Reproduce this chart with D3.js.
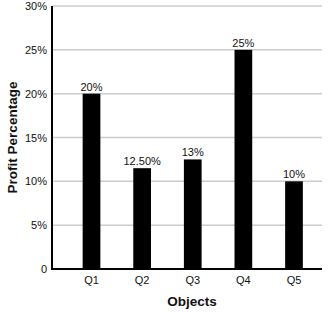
<!DOCTYPE html>
<html><head><meta charset="utf-8">
<script src="https://cdn.jsdelivr.net/npm/d3@7"></script>
<style>body{margin:0;background:#fff}text{font-family:"Liberation Sans",Arial,sans-serif}</style>
</head><body><svg id="c" width="334" height="312"></svg>
<script>
const categories = ["Q1","Q2","Q3","Q4","Q5"];
const values = [20, 11.5, 12.5, 25, 10];
const valueLabels = ["20%","12.50%","13%","25%","10%"];
const yTicks = [0,5,10,15,20,25,30];
const yTickLabels = ["0","5%","10%","15%","20%","25%","30%"];

(function(){
const svg = d3.select("#c");
const mLeft = 52, mRight = 322, mTop = 6, mBottom = 269;
const font = '"Liberation Sans",Arial,sans-serif';
const y = d3.scaleLinear().domain([0,30]).range([mBottom, mTop]);
const x = d3.scaleBand().domain(categories).range([66.2, 319.3]).paddingInner(0.65).paddingOuter(0.325);

svg.append("g").selectAll("line").data(yTicks.filter(d=>d>0)).join("line")
  .attr("x1", mLeft).attr("x2", mRight).attr("y1", d=>y(d)).attr("y2", d=>y(d))
  .attr("stroke", "#cccccc").attr("stroke-width", 1.5);

svg.append("g").selectAll("rect").data(values).join("rect")
  .attr("x", (d,i)=>x(categories[i])).attr("width", x.bandwidth())
  .attr("y", d=>y(d)).attr("height", d=>mBottom - y(d)).attr("fill", "#000");

svg.append("g").selectAll("text").data(values).join("text")
  .attr("x", (d,i)=>x(categories[i]) + x.bandwidth()/2).attr("y", d=>y(d) - 3)
  .attr("text-anchor","middle").attr("font-size", 11).attr("fill","#111")
  .style("font-family", font).style("-webkit-text-stroke","0.35px #111")
  .text((d,i)=>valueLabels[i]);

const yAxis = d3.axisLeft(y).tickValues(yTicks).tickFormat((d,i)=>yTickLabels[i]).tickSize(0).tickPadding(5);
const gy = svg.append("g").attr("transform", `translate(${mLeft},0)`).call(yAxis);
gy.select(".domain").remove();
gy.selectAll("text").attr("font-size", 11).attr("fill","#111")
  .style("font-family", font).style("-webkit-text-stroke","0.35px #111");

const xAxis = d3.axisBottom(x).tickSize(0).tickPadding(7);
const gx = svg.append("g").attr("transform", `translate(0,${mBottom})`).call(xAxis);
gx.select(".domain").remove();
gx.selectAll("text").attr("font-size", 11).attr("fill","#111")
  .style("font-family", font).style("-webkit-text-stroke","0.35px #111");

svg.append("line").attr("x1", mLeft).attr("x2", mLeft).attr("y1", mTop).attr("y2", mBottom+1)
  .attr("stroke","#000").attr("stroke-width",2);
svg.append("line").attr("x1", mLeft-1).attr("x2", mRight).attr("y1", mBottom).attr("y2", mBottom)
  .attr("stroke","#000").attr("stroke-width",2);

svg.append("text").attr("transform", `translate(17,${(mTop+mBottom)/2}) rotate(-90)`)
  .attr("text-anchor","middle").attr("font-size", 13.5).attr("font-weight","bold").attr("fill","#111")
  .text("Profit Percentage");
svg.append("text").attr("x", 192).attr("y", 306)
  .attr("text-anchor","middle").attr("font-size", 13.5).attr("font-weight","bold").attr("fill","#111")
  .text("Objects");
})();
</script></body></html>
